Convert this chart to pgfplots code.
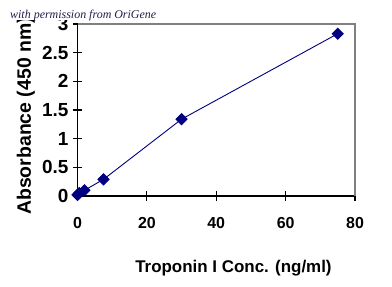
\documentclass[border=0pt]{standalone}
\usepackage{fontspec}
\setmainfont{Liberation Sans}
\newfontfamily\noteFont{Liberation Serif}
\usepackage{pgfplots}
\pgfplotsset{compat=1.18}
\definecolor{navyblue}{HTML}{000080}
\definecolor{notecol}{HTML}{202048}
\begin{document}
\begin{tikzpicture}[x=1bp,y=1bp]
\path[use as bounding box] (0,0) rectangle (392,287);
\begin{axis}[
 at={(77.5bp,91bp)}, anchor=south west,
 scale only axis, width=277.5bp, height=172bp,
 xmin=0,xmax=80,ymin=0,ymax=3,
 axis x line*=bottom, axis y line*=left,
 axis line style={black, line width=1.6bp},
 every outer x axis line/.append style={-},
 every outer y axis line/.append style={-},
 xtick={0,20,...,80}, ytick={0,0.5,...,3},
 tick align=center, major tick length=9bp,
 tick style={black, line width=1.2bp},
 /pgf/number format/assume math mode=true,
 xticklabel style={font=\fontsize{16}{18}\selectfont\bfseries, yshift=-13bp},
 yticklabel style={font=\fontsize{19}{21}\selectfont\bfseries, xshift=-1bp, /pgf/number format/fixed},
 xlabel={Troponin I Conc. (ng/ml)},
 ylabel={Absorbance (450 nm)},
 xlabel style={font=\fontsize{17}{20}\selectfont\bfseries, at={(axis description cs:0.562,-0.442)}, anchor=base},
 ylabel style={font=\fontsize{19.5}{23}\selectfont\bfseries, at={(axis description cs:-0.186,-0.11)}, anchor=west, inner sep=0pt},
 clip=false,
]
\draw[gray, line width=1.4bp] (rel axis cs:0,1) -- (rel axis cs:1,1) -- (rel axis cs:1,0);
\addplot[navyblue, line width=0.9bp, mark=square*, mark size=3.9bp, mark options={rotate=45, fill=navyblue, draw=navyblue}] coordinates {
(0,0.02) (0.5,0.05) (2,0.10) (7.5,0.29) (30,1.34) (75,2.83)
};
\end{axis}
\fill[white] (0,267) rectangle (160,287);
\node[anchor=base west, font=\noteFont\itshape\fontsize{12}{14}\selectfont, text=notecol, inner sep=0pt] at (10,269) {with permission from OriGene};
\end{tikzpicture}
\end{document}
